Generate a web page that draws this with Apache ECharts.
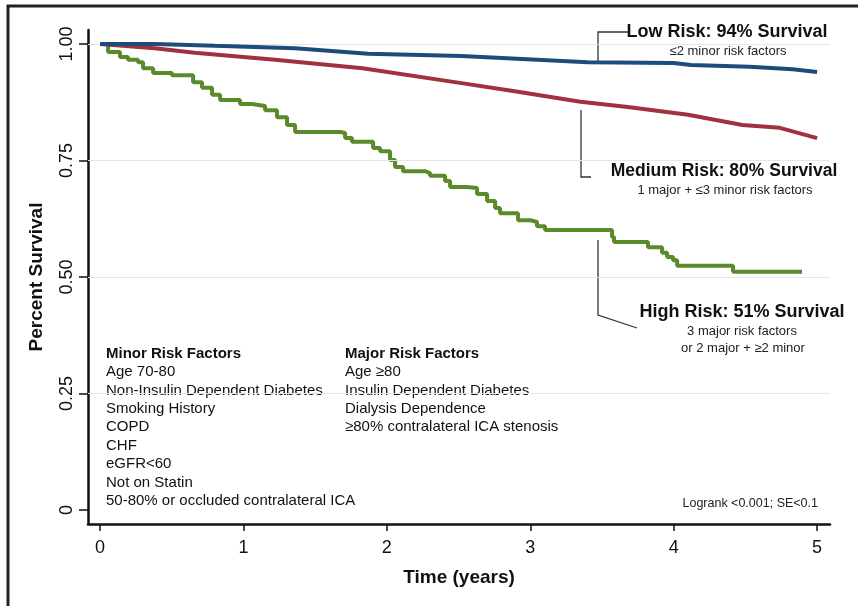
<!DOCTYPE html>
<html>
<head>
<meta charset="utf-8">
<script src="https://cdn.jsdelivr.net/npm/echarts@6/dist/echarts.min.js"></script>
<style>
  html, body { margin: 0; padding: 0; background: #fff; }
  #chart { width: 858px; height: 606px; }
</style>
</head>
<body>
<div id="chart"></div>
<script>
// survival curves (time in years, survival proportion)
var lowTime = [0, 0.38, 0.8, 1.36, 1.87, 2.52, 3.4, 4.0, 4.12, 4.53, 4.83, 5.0];
var lowSurv = [1, 1.0, 0.996, 0.991, 0.979, 0.974, 0.961, 0.959, 0.955, 0.951, 0.946, 0.940];

var medTime = [0, 0.38, 0.66, 1.22, 1.83, 2.52, 2.88, 3.35, 3.68, 4.1, 4.48, 4.74, 5.0];
var medSurv = [1, 0.991, 0.981, 0.966, 0.948, 0.916, 0.899, 0.876, 0.865, 0.848, 0.826, 0.820, 0.798];

var highTime = [0, 0.056, 0.139, 0.195, 0.265, 0.300, 0.370, 0.502, 0.649, 0.711, 0.781, 0.837, 0.976, 1.060, 1.151, 1.234, 1.304, 1.360,
  1.674, 1.709, 1.757, 1.904, 1.953, 2.022, 2.057, 2.113, 2.266, 2.301, 2.406, 2.441, 2.559, 2.629, 2.699, 2.755, 2.789, 2.915,
  2.999, 3.047, 3.103, 3.570, 3.584, 3.821, 3.919, 3.954, 3.996, 4.024, 4.414, 4.895];
var highSurv = [1, 0.983, 0.972, 0.966, 0.961, 0.948, 0.938, 0.933, 0.918, 0.906, 0.891, 0.880, 0.871, 0.867, 0.858, 0.843, 0.826, 0.811,
  0.809, 0.798, 0.790, 0.777, 0.770, 0.751, 0.736, 0.727, 0.723, 0.717, 0.706, 0.693, 0.691, 0.678, 0.663, 0.648, 0.637, 0.622,
  0.618, 0.609, 0.601, 0.586, 0.575, 0.564, 0.552, 0.543, 0.536, 0.524, 0.511, 0.511];

var xTicks = [0, 1, 2, 3, 4, 5];
var yTicks = [0, 0.25, 0.5, 0.75, 1];
var yTickLabels = ['0', '0.25', '0.50', '0.75', '1.00'];
var gridValues = [0.25, 0.5, 0.75, 1];

var minorFactors = ['Age 70-80', 'Non-Insulin Dependent Diabetes', 'Smoking History', 'COPD', 'CHF',
  'eGFR<60', 'Not on Statin', '50-80% or occluded contralateral ICA'];
var majorFactors = ['Age \u226580', 'Insulin Dependent Diabetes', 'Dialysis Dependence', '\u226580% contralateral ICA stenosis'];

function zip(a, b) {
  return a.map(function (v, i) { return [v, b[i]]; });
}

var FONT = '"Liberation Sans", Arial, sans-serif';

var chart = echarts.init(document.getElementById('chart'));

function txt(x, y, text, size, bold, align, color) {
  return {
    type: 'text', x: x, y: y, silent: true,
    style: {
      text: text, fill: color || '#111', align: align || 'left', verticalAlign: 'middle',
      font: (bold ? 'bold ' : '') + size + 'px ' + FONT
    }
  };
}

function leader(points) {
  return {
    type: 'polyline', silent: true,
    shape: { points: points },
    style: { stroke: '#333', lineWidth: 1.3, fill: null }
  };
}

var option = {
  animation: false,
  backgroundColor: '#fff',
  grid: { left: 88, right: 28, top: 30, bottom: 82 },
  xAxis: {
    type: 'value',
    min: -0.084,
    max: 5.09,
    name: 'Time (years)',
    nameLocation: 'middle',
    nameGap: 44,
    nameMoveOverlap: false,
    nameTextStyle: { fontFamily: FONT, fontSize: 19, fontWeight: 'bold', color: '#111' },
    axisLine: { onZero: false, lineStyle: { color: '#111', width: 2.5 } },
    axisTick: { show: true, length: 7, customValues: xTicks, lineStyle: { color: '#111', width: 1.5 } },
    axisLabel: { customValues: xTicks, fontFamily: FONT, fontSize: 18, color: '#111', margin: 15 },
    splitLine: { show: false }
  },
  yAxis: {
    type: 'value',
    min: -0.03,
    max: 1.03,
    name: 'Percent Survival',
    nameLocation: 'middle',
    nameGap: 42,
    nameRotate: 90,
    nameMoveOverlap: false,
    nameTextStyle: { fontFamily: FONT, fontSize: 19, fontWeight: 'bold', color: '#111' },
    axisLine: { onZero: false, lineStyle: { color: '#111', width: 2.5 } },
    axisTick: { show: true, length: 9, customValues: yTicks, lineStyle: { color: '#111', width: 1.5 } },
    axisLabel: {
      customValues: yTicks, rotate: 90, fontFamily: FONT, fontSize: 18, color: '#111', margin: 12,
      formatter: function (v) {
        var i = yTicks.indexOf(v);
        return i >= 0 ? yTickLabels[i] : '';
      }
    },
    splitLine: { show: false }
  },
  series: [
    {
      name: 'High Risk',
      type: 'line',
      step: 'end',
      symbol: 'none',
      data: zip(highTime, highSurv),
      lineStyle: { color: '#5b8a2a', width: 4 },
      markLine: {
        silent: true,
        symbol: 'none',
        label: { show: false },
        lineStyle: { color: '#e6e6e6', width: 1, type: 'solid' },
        data: gridValues.map(function (v) { return { yAxis: v }; })
      },
      z: 3
    },
    {
      name: 'Medium Risk',
      type: 'line',
      symbol: 'none',
      data: zip(medTime, medSurv),
      lineStyle: { color: '#a2313f', width: 4 },
      z: 4
    },
    {
      name: 'Low Risk',
      type: 'line',
      symbol: 'none',
      data: zip(lowTime, lowSurv),
      lineStyle: { color: '#1c4b7c', width: 4 },
      z: 5
    }
  ],
  graphic: [
    {
      type: 'rect', silent: true,
      shape: { x: 8, y: 6, width: 880, height: 640 },
      style: { fill: null, stroke: '#222', lineWidth: 3 }
    },
    leader([[598, 63], [598, 32], [628, 32]]),
    leader([[581, 110], [581, 177], [591, 177]]),
    leader([[598, 240], [598, 315], [637, 328]]),
    txt(727, 32, 'Low Risk: 94% Survival', 18, true, 'center'),
    txt(728, 51, '\u22642 minor risk factors', 13, false, 'center', '#222'),
    txt(724, 171, 'Medium Risk: 80% Survival', 17.5, true, 'center'),
    txt(725, 190, '1 major + \u22643 minor risk factors', 13, false, 'center', '#222'),
    txt(742, 312, 'High Risk: 51% Survival', 18, true, 'center'),
    txt(742, 331, '3 major risk factors', 13, false, 'center', '#222'),
    txt(743, 348, 'or 2 major + \u22652 minor', 13, false, 'center', '#222'),
    txt(106, 354, 'Minor Risk Factors', 15, true),
    {
      type: 'text', x: 106, y: 362.8, silent: true,
      style: { text: minorFactors.join('\n'), fill: '#111', align: 'left', verticalAlign: 'top',
        font: '15px ' + FONT, lineHeight: 18.4 }
    },
    txt(345, 354, 'Major Risk Factors', 15, true),
    {
      type: 'text', x: 345, y: 362.8, silent: true,
      style: { text: majorFactors.join('\n'), fill: '#111', align: 'left', verticalAlign: 'top',
        font: '15px ' + FONT, lineHeight: 18.4 }
    },
    txt(818, 504, 'Logrank <0.001; SE<0.1', 12.5, false, 'right', '#222')
  ]
};

chart.setOption(option);
</script>
</body>
</html>
